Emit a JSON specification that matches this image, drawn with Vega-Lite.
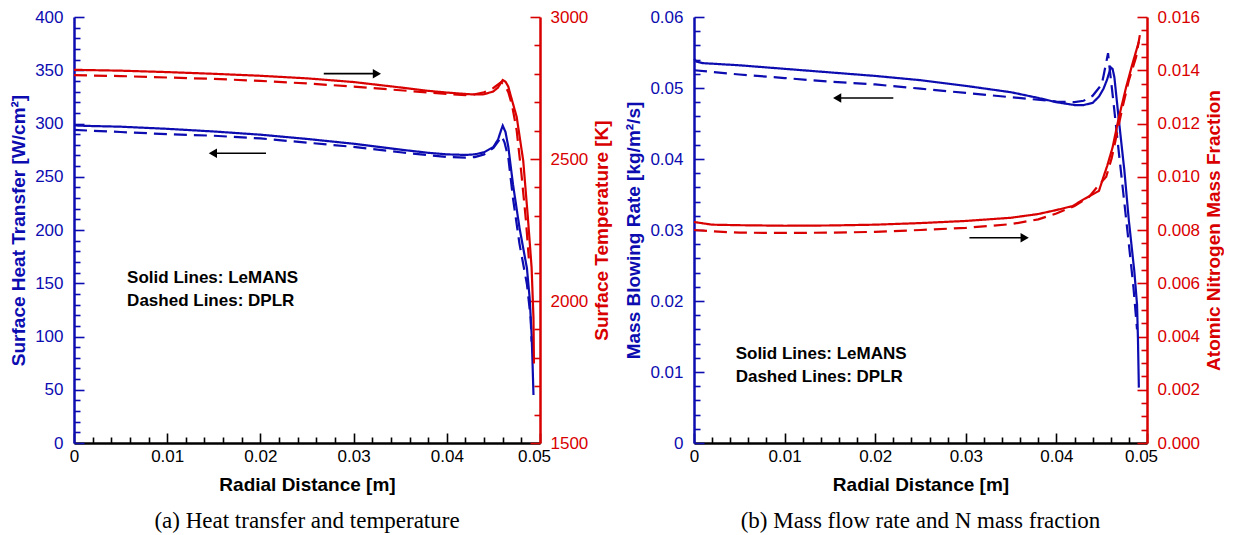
{
  "$schema": "https://vega.github.io/schema/vega-lite/v6.json",
  "background": "white",
  "padding": {"left": 9, "top": 8, "right": 0, "bottom": 0},
  "config": {"view": {"stroke": null}, "font": "Liberation Sans", "concat": {"spacing": 12}},
  "datasets": {
    "a_left": [
      {"x": 0, "v": 298.5, "model": "LeMANS"}, {"x": 0.0005, "v": 298, "model": "LeMANS"}, {"x": 0.002, "v": 297.6, "model": "LeMANS"},
      {"x": 0.005, "v": 297, "model": "LeMANS"}, {"x": 0.01, "v": 295, "model": "LeMANS"}, {"x": 0.015, "v": 292.5, "model": "LeMANS"},
      {"x": 0.02, "v": 289.5, "model": "LeMANS"}, {"x": 0.025, "v": 285.5, "model": "LeMANS"}, {"x": 0.03, "v": 281, "model": "LeMANS"},
      {"x": 0.035, "v": 275.5, "model": "LeMANS"}, {"x": 0.038, "v": 272.5, "model": "LeMANS"}, {"x": 0.04, "v": 271, "model": "LeMANS"},
      {"x": 0.042, "v": 270.5, "model": "LeMANS"}, {"x": 0.043, "v": 271, "model": "LeMANS"}, {"x": 0.044, "v": 273, "model": "LeMANS"},
      {"x": 0.045, "v": 278, "model": "LeMANS"}, {"x": 0.0455, "v": 285, "model": "LeMANS"}, {"x": 0.0458, "v": 293, "model": "LeMANS"},
      {"x": 0.046, "v": 298, "model": "LeMANS"}, {"x": 0.0463, "v": 292, "model": "LeMANS"}, {"x": 0.0466, "v": 278, "model": "LeMANS"},
      {"x": 0.0471, "v": 243, "model": "LeMANS"}, {"x": 0.0478, "v": 202, "model": "LeMANS"}, {"x": 0.0486, "v": 164, "model": "LeMANS"},
      {"x": 0.0489, "v": 135, "model": "LeMANS"}, {"x": 0.0491, "v": 102, "model": "LeMANS"}, {"x": 0.0492, "v": 75, "model": "LeMANS"},
      {"x": 0.04925, "v": 60, "model": "LeMANS"}, {"x": 0.0493, "v": 45, "model": "LeMANS"},
      {"x": 0, "v": 294, "model": "DPLR"}, {"x": 0.005, "v": 292, "model": "DPLR"}, {"x": 0.01, "v": 290, "model": "DPLR"},
      {"x": 0.015, "v": 288.5, "model": "DPLR"}, {"x": 0.02, "v": 286, "model": "DPLR"}, {"x": 0.025, "v": 282, "model": "DPLR"},
      {"x": 0.03, "v": 278, "model": "DPLR"}, {"x": 0.035, "v": 273, "model": "DPLR"}, {"x": 0.04, "v": 268.5, "model": "DPLR"},
      {"x": 0.042, "v": 268, "model": "DPLR"}, {"x": 0.043, "v": 268.5, "model": "DPLR"}, {"x": 0.044, "v": 271, "model": "DPLR"},
      {"x": 0.045, "v": 277, "model": "DPLR"}, {"x": 0.0455, "v": 283, "model": "DPLR"}, {"x": 0.0459, "v": 288, "model": "DPLR"},
      {"x": 0.0462, "v": 282, "model": "DPLR"}, {"x": 0.0466, "v": 268, "model": "DPLR"}, {"x": 0.0471, "v": 230, "model": "DPLR"},
      {"x": 0.0478, "v": 187, "model": "DPLR"}, {"x": 0.0486, "v": 149, "model": "DPLR"}, {"x": 0.049, "v": 117, "model": "DPLR"},
      {"x": 0.0491, "v": 95, "model": "DPLR"}
    ],
    "a_right": [
      {"x": 0, "v": 2814, "model": "LeMANS"}, {"x": 0.005, "v": 2811, "model": "LeMANS"}, {"x": 0.01, "v": 2806, "model": "LeMANS"},
      {"x": 0.015, "v": 2800, "model": "LeMANS"}, {"x": 0.02, "v": 2793, "model": "LeMANS"}, {"x": 0.025, "v": 2784, "model": "LeMANS"},
      {"x": 0.03, "v": 2771, "model": "LeMANS"}, {"x": 0.035, "v": 2752, "model": "LeMANS"}, {"x": 0.038, "v": 2740, "model": "LeMANS"},
      {"x": 0.04, "v": 2734, "model": "LeMANS"}, {"x": 0.042, "v": 2729, "model": "LeMANS"}, {"x": 0.043, "v": 2727, "model": "LeMANS"},
      {"x": 0.044, "v": 2728, "model": "LeMANS"}, {"x": 0.045, "v": 2738, "model": "LeMANS"}, {"x": 0.0455, "v": 2752, "model": "LeMANS"},
      {"x": 0.046, "v": 2778, "model": "LeMANS"}, {"x": 0.0463, "v": 2772, "model": "LeMANS"}, {"x": 0.0466, "v": 2755, "model": "LeMANS"},
      {"x": 0.0468, "v": 2730, "model": "LeMANS"}, {"x": 0.0475, "v": 2648, "model": "LeMANS"}, {"x": 0.0482, "v": 2494, "model": "LeMANS"},
      {"x": 0.0487, "v": 2294, "model": "LeMANS"}, {"x": 0.0491, "v": 2117, "model": "LeMANS"}, {"x": 0.0493, "v": 1940, "model": "LeMANS"},
      {"x": 0.04935, "v": 1780, "model": "LeMANS"},
      {"x": 0, "v": 2795, "model": "DPLR"}, {"x": 0.005, "v": 2792, "model": "DPLR"}, {"x": 0.01, "v": 2787, "model": "DPLR"},
      {"x": 0.015, "v": 2782, "model": "DPLR"}, {"x": 0.02, "v": 2775, "model": "DPLR"}, {"x": 0.025, "v": 2766, "model": "DPLR"},
      {"x": 0.03, "v": 2755, "model": "DPLR"}, {"x": 0.035, "v": 2742, "model": "DPLR"}, {"x": 0.04, "v": 2729, "model": "DPLR"},
      {"x": 0.042, "v": 2725, "model": "DPLR"}, {"x": 0.043, "v": 2728, "model": "DPLR"}, {"x": 0.044, "v": 2735, "model": "DPLR"},
      {"x": 0.045, "v": 2750, "model": "DPLR"}, {"x": 0.0458, "v": 2770, "model": "DPLR"}, {"x": 0.0462, "v": 2762, "model": "DPLR"},
      {"x": 0.0466, "v": 2735, "model": "DPLR"}, {"x": 0.047, "v": 2690, "model": "DPLR"}, {"x": 0.0475, "v": 2600, "model": "DPLR"},
      {"x": 0.048, "v": 2450, "model": "DPLR"}, {"x": 0.0485, "v": 2280, "model": "DPLR"}, {"x": 0.0488, "v": 2150, "model": "DPLR"}
    ],
    "b_left": [
      {"x": 0, "v": 0.0541, "model": "LeMANS"}, {"x": 0.0003, "v": 0.0537, "model": "LeMANS"}, {"x": 0.001, "v": 0.0535, "model": "LeMANS"},
      {"x": 0.005, "v": 0.0532, "model": "LeMANS"}, {"x": 0.01, "v": 0.0527, "model": "LeMANS"}, {"x": 0.015, "v": 0.0522, "model": "LeMANS"},
      {"x": 0.02, "v": 0.0517, "model": "LeMANS"}, {"x": 0.025, "v": 0.0511, "model": "LeMANS"}, {"x": 0.03, "v": 0.0503, "model": "LeMANS"},
      {"x": 0.035, "v": 0.0494, "model": "LeMANS"}, {"x": 0.038, "v": 0.0486, "model": "LeMANS"}, {"x": 0.04, "v": 0.048, "model": "LeMANS"},
      {"x": 0.042, "v": 0.0476, "model": "LeMANS"}, {"x": 0.043, "v": 0.0476, "model": "LeMANS"}, {"x": 0.044, "v": 0.0479, "model": "LeMANS"},
      {"x": 0.0447, "v": 0.0488, "model": "LeMANS"}, {"x": 0.0452, "v": 0.0499, "model": "LeMANS"}, {"x": 0.0456, "v": 0.0512, "model": "LeMANS"},
      {"x": 0.046, "v": 0.0529, "model": "LeMANS"}, {"x": 0.0462, "v": 0.0527, "model": "LeMANS"}, {"x": 0.0464, "v": 0.0515, "model": "LeMANS"},
      {"x": 0.0469, "v": 0.0454, "model": "LeMANS"}, {"x": 0.0475, "v": 0.0384, "model": "LeMANS"}, {"x": 0.048, "v": 0.0313, "model": "LeMANS"},
      {"x": 0.0486, "v": 0.0242, "model": "LeMANS"}, {"x": 0.0489, "v": 0.0195, "model": "LeMANS"}, {"x": 0.049, "v": 0.0148, "model": "LeMANS"},
      {"x": 0.0491, "v": 0.0078, "model": "LeMANS"},
      {"x": 0, "v": 0.0525, "model": "DPLR"}, {"x": 0.005, "v": 0.0519, "model": "DPLR"}, {"x": 0.01, "v": 0.0514, "model": "DPLR"},
      {"x": 0.015, "v": 0.0509, "model": "DPLR"}, {"x": 0.02, "v": 0.0505, "model": "DPLR"}, {"x": 0.025, "v": 0.0499, "model": "DPLR"},
      {"x": 0.03, "v": 0.0493, "model": "DPLR"}, {"x": 0.035, "v": 0.0487, "model": "DPLR"}, {"x": 0.04, "v": 0.0481, "model": "DPLR"},
      {"x": 0.042, "v": 0.048, "model": "DPLR"}, {"x": 0.043, "v": 0.0482, "model": "DPLR"}, {"x": 0.044, "v": 0.0489, "model": "DPLR"},
      {"x": 0.045, "v": 0.0505, "model": "DPLR"}, {"x": 0.0452, "v": 0.0517, "model": "DPLR"}, {"x": 0.0457, "v": 0.0549, "model": "DPLR"},
      {"x": 0.0459, "v": 0.0525, "model": "DPLR"}, {"x": 0.0463, "v": 0.048, "model": "DPLR"}, {"x": 0.0468, "v": 0.042, "model": "DPLR"},
      {"x": 0.0474, "v": 0.035, "model": "DPLR"}, {"x": 0.048, "v": 0.028, "model": "DPLR"}, {"x": 0.0485, "v": 0.022, "model": "DPLR"},
      {"x": 0.0489, "v": 0.016, "model": "DPLR"}
    ],
    "b_right": [
      {"x": 0, "v": 0.0083, "model": "LeMANS"}, {"x": 0.002, "v": 0.0082, "model": "LeMANS"}, {"x": 0.005, "v": 0.00818, "model": "LeMANS"},
      {"x": 0.01, "v": 0.00816, "model": "LeMANS"}, {"x": 0.015, "v": 0.00817, "model": "LeMANS"}, {"x": 0.02, "v": 0.0082, "model": "LeMANS"},
      {"x": 0.025, "v": 0.00826, "model": "LeMANS"}, {"x": 0.03, "v": 0.00834, "model": "LeMANS"}, {"x": 0.035, "v": 0.00846, "model": "LeMANS"},
      {"x": 0.038, "v": 0.0086, "model": "LeMANS"}, {"x": 0.04, "v": 0.00875, "model": "LeMANS"}, {"x": 0.0418, "v": 0.0089, "model": "LeMANS"},
      {"x": 0.043, "v": 0.00915, "model": "LeMANS"}, {"x": 0.0447, "v": 0.00947, "model": "LeMANS"}, {"x": 0.0452, "v": 0.01, "model": "LeMANS"},
      {"x": 0.0456, "v": 0.0104, "model": "LeMANS"}, {"x": 0.0462, "v": 0.0111, "model": "LeMANS"}, {"x": 0.0469, "v": 0.01224, "model": "LeMANS"},
      {"x": 0.0477, "v": 0.01337, "model": "LeMANS"}, {"x": 0.0484, "v": 0.01425, "model": "LeMANS"}, {"x": 0.0491, "v": 0.01507, "model": "LeMANS"},
      {"x": 0, "v": 0.008, "model": "DPLR"}, {"x": 0.002, "v": 0.00795, "model": "DPLR"}, {"x": 0.005, "v": 0.0079, "model": "DPLR"},
      {"x": 0.01, "v": 0.00789, "model": "DPLR"}, {"x": 0.015, "v": 0.0079, "model": "DPLR"}, {"x": 0.02, "v": 0.00793, "model": "DPLR"},
      {"x": 0.025, "v": 0.008, "model": "DPLR"}, {"x": 0.03, "v": 0.00808, "model": "DPLR"}, {"x": 0.035, "v": 0.00822, "model": "DPLR"},
      {"x": 0.038, "v": 0.0084, "model": "DPLR"}, {"x": 0.04, "v": 0.00862, "model": "DPLR"}, {"x": 0.042, "v": 0.0089, "model": "DPLR"},
      {"x": 0.0436, "v": 0.00924, "model": "DPLR"}, {"x": 0.0447, "v": 0.0097, "model": "DPLR"}, {"x": 0.0455, "v": 0.01, "model": "DPLR"},
      {"x": 0.0461, "v": 0.0107, "model": "DPLR"}, {"x": 0.0466, "v": 0.01148, "model": "DPLR"}, {"x": 0.0473, "v": 0.01261, "model": "DPLR"},
      {"x": 0.048, "v": 0.01362, "model": "DPLR"}, {"x": 0.0488, "v": 0.0145, "model": "DPLR"}, {"x": 0.0493, "v": 0.0155, "model": "DPLR"}
    ],
    "a_notes": [
      {"x": 0.0057, "v": 155, "label": "Solid Lines: LeMANS"},
      {"x": 0.0057, "v": 133, "label": "Dashed Lines: DPLR"}
    ],
    "a_arrows": [
      {"tail": 0.0268, "tip": 0.0325, "v": 346.8, "dir": "right"},
      {"tail": 0.0206, "tip": 0.0149, "v": 272, "dir": "left"}
    ],
    "b_notes": [
      {"x": 0.0046, "v": 0.01254, "label": "Solid Lines: LeMANS"},
      {"x": 0.0046, "v": 0.0093, "label": "Dashed Lines: DPLR"}
    ],
    "b_arrows": [
      {"tail": 0.022, "tip": 0.0158, "v": 0.0486, "dir": "left"},
      {"tail": 0.0304, "tip": 0.0365, "v": 0.0289, "dir": "right"}
    ]
  },
  "hconcat": [
    {
      "width": 466,
      "height": 426,
      "title": {"text": "(a) Heat transfer and temperature", "orient": "bottom", "font": "Liberation Serif", "fontSize": 23, "fontWeight": "normal", "color": "black", "offset": 16, "anchor": "middle"},
      "resolve": {"scale": {"y": "independent"}},
      "layer": [
        {
          "layer": [
            {
              "data": {"name": "a_left"},
              "mark": {"type": "line", "color": "#0c0cb0", "strokeWidth": 2.2},
              "encoding": {
                "x": {"field": "x", "type": "quantitative", "scale": {"domain": [0, 0.05], "nice": false, "zero": false},
                  "axis": {
                    "title": "Radial Distance [m]", "tickCount": 200,
                    "values": [0, 0.002, 0.004, 0.006, 0.008, 0.01, 0.012, 0.014, 0.016, 0.018, 0.02, 0.022, 0.024, 0.026, 0.028, 0.03, 0.032, 0.034, 0.036, 0.038, 0.04, 0.042, 0.044, 0.046, 0.048, 0.05],
                    "labelExpr": "abs(datum.value*100 - round(datum.value*100)) < 0.000001 ? (datum.value == 0 ? '0' : format(datum.value, '.2f')) : ''",
                    "tickSize": {"condition": {"test": "abs(datum.value*100 - round(datum.value*100)) < 0.000001", "value": -10}, "value": -6},
                    "labelOffset": {"condition": {"test": "datum.value > 0.0499", "value": -6}, "value": 0},
                    "tickColor": "black", "tickWidth": 1.6, "domainColor": "black", "domainWidth": 2.5,
                    "labelPadding": 15, "labelFontSize": 17, "labelColor": "black", "labelFont": "Liberation Sans", "labelOverlap": false, "labelFlush": false,
                    "titleFontSize": 19, "titleFontWeight": "bold", "titleColor": "black", "titleFont": "Liberation Sans", "titlePadding": 7, "grid": false
                  }},
                "y": {"field": "v", "type": "quantitative", "scale": {"domain": [0, 400], "nice": false},
                  "axis": {
                    "title": "Surface Heat Transfer [W/cm²]", "orient": "left", "tickCount": 200,
                    "values": [0, 10, 20, 30, 40, 50, 60, 70, 80, 90, 100, 110, 120, 130, 140, 150, 160, 170, 180, 190, 200, 210, 220, 230, 240, 250, 260, 270, 280, 290, 300, 310, 320, 330, 340, 350, 360, 370, 380, 390, 400],
                    "format": "d",
                    "labelExpr": "datum.value % 50 == 0 ? datum.label : ''",
                    "tickSize": {"condition": {"test": "datum.value % 50 == 0", "value": -10}, "value": -6},
                    "tickColor": "#0c0cb0", "tickWidth": 1.6, "domainColor": "#0c0cb0", "domainWidth": 2.5,
                    "labelPadding": 21, "labelFontSize": 17, "labelColor": "#0c0cb0", "labelFont": "Liberation Sans", "labelOverlap": false, "labelFlush": false,
                    "titleFontSize": 19, "titleFontWeight": "bold", "titleColor": "#0c0cb0", "titleFont": "Liberation Sans", "titlePadding": 6, "grid": false
                  }},
                "strokeDash": {"field": "model", "type": "nominal", "scale": {"domain": ["LeMANS", "DPLR"], "range": [[1, 0], [13, 7]]}, "legend": null}
              }
            },
            {
              "data": {"name": "a_notes"},
              "mark": {"type": "text", "align": "left", "baseline": "middle", "font": "Liberation Sans", "fontSize": 17, "fontWeight": "bold", "color": "black"},
              "encoding": {
                "x": {"field": "x", "type": "quantitative", "scale": {"domain": [0, 0.05], "nice": false, "zero": false}},
                "y": {"field": "v", "type": "quantitative", "scale": {"domain": [0, 400], "nice": false}},
                "text": {"field": "label"}
              }
            },
            {
              "data": {"name": "a_arrows"},
              "mark": {"type": "rule", "color": "black", "strokeWidth": 1.6},
              "encoding": {
                "x": {"field": "tail", "type": "quantitative", "scale": {"domain": [0, 0.05], "nice": false, "zero": false}},
                "x2": {"field": "tip"},
                "y": {"field": "v", "type": "quantitative", "scale": {"domain": [0, 400], "nice": false}}
              }
            },
            {
              "data": {"name": "a_arrows"},
              "mark": {"type": "point", "filled": true, "color": "black", "opacity": 1, "size": 90},
              "encoding": {
                "x": {"field": "tip", "type": "quantitative", "scale": {"domain": [0, 0.05], "nice": false, "zero": false}},
                "y": {"field": "v", "type": "quantitative", "scale": {"domain": [0, 400], "nice": false}},
                "shape": {"field": "dir", "type": "nominal", "scale": {"domain": ["right", "left"], "range": ["triangle-right", "triangle-left"]}, "legend": null}
              }
            }
          ]
        },
        {
          "data": {"name": "a_right"},
          "mark": {"type": "line", "color": "#d90000", "strokeWidth": 2.2},
          "encoding": {
            "x": {"field": "x", "type": "quantitative", "scale": {"domain": [0, 0.05], "nice": false, "zero": false}},
            "y": {"field": "v", "type": "quantitative", "scale": {"domain": [1500, 3000], "nice": false, "zero": false},
              "axis": {
                "title": "Surface Temperature [K]", "orient": "right", "titleAngle": -90, "titleBaseline": "top", "tickCount": 200,
                "values": [1500, 1600, 1700, 1800, 1900, 2000, 2100, 2200, 2300, 2400, 2500, 2600, 2700, 2800, 2900, 3000],
                "format": "d",
                "labelExpr": "datum.value % 500 == 0 ? datum.label : ''",
                "tickSize": {"condition": {"test": "datum.value % 500 == 0", "value": -10}, "value": -6},
                "tickColor": "#d90000", "tickWidth": 1.6, "domainColor": "#d90000", "domainWidth": 2.5,
                "labelPadding": 20, "labelFontSize": 17, "labelColor": "#d90000", "labelFont": "Liberation Sans", "labelOverlap": false, "labelFlush": false,
                "titleFontSize": 19, "titleFontWeight": "bold", "titleColor": "#d90000", "titleFont": "Liberation Sans", "titlePadding": 5, "grid": false
              }},
            "strokeDash": {"field": "model", "type": "nominal", "scale": {"domain": ["LeMANS", "DPLR"], "range": [[1, 0], [13, 7]]}, "legend": null}
          }
        }
      ]
    },
    {
      "width": 453,
      "height": 426,
      "title": {"text": "(b) Mass flow rate and N mass fraction", "orient": "bottom", "font": "Liberation Serif", "fontSize": 23, "fontWeight": "normal", "color": "black", "offset": 16, "anchor": "middle"},
      "resolve": {"scale": {"y": "independent"}},
      "layer": [
        {
          "layer": [
            {
              "data": {"name": "b_left"},
              "mark": {"type": "line", "color": "#0c0cb0", "strokeWidth": 2.2},
              "encoding": {
                "x": {"field": "x", "type": "quantitative", "scale": {"domain": [0, 0.05], "nice": false, "zero": false},
                  "axis": {
                    "title": "Radial Distance [m]", "tickCount": 200,
                    "values": [0, 0.002, 0.004, 0.006, 0.008, 0.01, 0.012, 0.014, 0.016, 0.018, 0.02, 0.022, 0.024, 0.026, 0.028, 0.03, 0.032, 0.034, 0.036, 0.038, 0.04, 0.042, 0.044, 0.046, 0.048, 0.05],
                    "labelExpr": "abs(datum.value*100 - round(datum.value*100)) < 0.000001 ? (datum.value == 0 ? '0' : format(datum.value, '.2f')) : ''",
                    "tickSize": {"condition": {"test": "abs(datum.value*100 - round(datum.value*100)) < 0.000001", "value": -10}, "value": -6},
                    "labelOffset": {"condition": {"test": "datum.value > 0.0499", "value": -6}, "value": 0},
                    "tickColor": "black", "tickWidth": 1.6, "domainColor": "black", "domainWidth": 2.5,
                    "labelPadding": 15, "labelFontSize": 17, "labelColor": "black", "labelFont": "Liberation Sans", "labelOverlap": false, "labelFlush": false,
                    "titleFontSize": 19, "titleFontWeight": "bold", "titleColor": "black", "titleFont": "Liberation Sans", "titlePadding": 7, "grid": false
                  }},
                "y": {"field": "v", "type": "quantitative", "scale": {"domain": [0, 0.06], "nice": false},
                  "axis": {
                    "title": "Mass Blowing Rate [kg/m²/s]", "orient": "left", "tickCount": 200,
                    "values": [0, 0.002, 0.004, 0.006, 0.008, 0.01, 0.012, 0.014, 0.016, 0.018, 0.02, 0.022, 0.024, 0.026, 0.028, 0.03, 0.032, 0.034, 0.036, 0.038, 0.04, 0.042, 0.044, 0.046, 0.048, 0.05, 0.052, 0.054, 0.056, 0.058, 0.06],
                    "labelExpr": "abs(datum.value*100 - round(datum.value*100)) < 0.000001 ? (datum.value == 0 ? '0' : format(datum.value, '.2f')) : ''",
                    "tickSize": {"condition": {"test": "abs(datum.value*100 - round(datum.value*100)) < 0.000001", "value": -10}, "value": -6},
                    "tickColor": "#0c0cb0", "tickWidth": 1.6, "domainColor": "#0c0cb0", "domainWidth": 2.5,
                    "labelPadding": 21, "labelFontSize": 17, "labelColor": "#0c0cb0", "labelFont": "Liberation Sans", "labelOverlap": false, "labelFlush": false,
                    "titleFontSize": 19, "titleFontWeight": "bold", "titleColor": "#0c0cb0", "titleFont": "Liberation Sans", "titlePadding": 6, "grid": false
                  }},
                "strokeDash": {"field": "model", "type": "nominal", "scale": {"domain": ["LeMANS", "DPLR"], "range": [[1, 0], [13, 7]]}, "legend": null}
              }
            },
            {
              "data": {"name": "b_notes"},
              "mark": {"type": "text", "align": "left", "baseline": "middle", "font": "Liberation Sans", "fontSize": 17, "fontWeight": "bold", "color": "black"},
              "encoding": {
                "x": {"field": "x", "type": "quantitative", "scale": {"domain": [0, 0.05], "nice": false, "zero": false}},
                "y": {"field": "v", "type": "quantitative", "scale": {"domain": [0, 0.06], "nice": false}},
                "text": {"field": "label"}
              }
            },
            {
              "data": {"name": "b_arrows"},
              "mark": {"type": "rule", "color": "black", "strokeWidth": 1.6},
              "encoding": {
                "x": {"field": "tail", "type": "quantitative", "scale": {"domain": [0, 0.05], "nice": false, "zero": false}},
                "x2": {"field": "tip"},
                "y": {"field": "v", "type": "quantitative", "scale": {"domain": [0, 0.06], "nice": false}}
              }
            },
            {
              "data": {"name": "b_arrows"},
              "mark": {"type": "point", "filled": true, "color": "black", "opacity": 1, "size": 90},
              "encoding": {
                "x": {"field": "tip", "type": "quantitative", "scale": {"domain": [0, 0.05], "nice": false, "zero": false}},
                "y": {"field": "v", "type": "quantitative", "scale": {"domain": [0, 0.06], "nice": false}},
                "shape": {"field": "dir", "type": "nominal", "scale": {"domain": ["right", "left"], "range": ["triangle-right", "triangle-left"]}, "legend": null}
              }
            }
          ]
        },
        {
          "data": {"name": "b_right"},
          "mark": {"type": "line", "color": "#d90000", "strokeWidth": 2.2},
          "encoding": {
            "x": {"field": "x", "type": "quantitative", "scale": {"domain": [0, 0.05], "nice": false, "zero": false}},
            "y": {"field": "v", "type": "quantitative", "scale": {"domain": [0, 0.016], "nice": false},
              "axis": {
                "title": "Atomic Nitrogen Mass Fraction", "orient": "right", "titleAngle": -90, "titleBaseline": "top", "tickCount": 200,
                "values": [0, 0.0005, 0.001, 0.0015, 0.002, 0.0025, 0.003, 0.0035, 0.004, 0.0045, 0.005, 0.0055, 0.006, 0.0065, 0.007, 0.0075, 0.008, 0.0085, 0.009, 0.0095, 0.01, 0.0105, 0.011, 0.0115, 0.012, 0.0125, 0.013, 0.0135, 0.014, 0.0145, 0.015, 0.0155, 0.016],
                "labelExpr": "abs(datum.value*500 - round(datum.value*500)) < 0.000001 ? format(datum.value, '.3f') : ''",
                "tickSize": {"condition": {"test": "abs(datum.value*500 - round(datum.value*500)) < 0.000001", "value": -10}, "value": -6},
                "tickColor": "#d90000", "tickWidth": 1.6, "domainColor": "#d90000", "domainWidth": 2.5,
                "labelPadding": 20, "labelFontSize": 17, "labelColor": "#d90000", "labelFont": "Liberation Sans", "labelOverlap": false, "labelFlush": false,
                "titleFontSize": 19, "titleFontWeight": "bold", "titleColor": "#d90000", "titleFont": "Liberation Sans", "titlePadding": 5, "grid": false
              }},
            "strokeDash": {"field": "model", "type": "nominal", "scale": {"domain": ["LeMANS", "DPLR"], "range": [[1, 0], [13, 7]]}, "legend": null}
          }
        }
      ]
    }
  ]
}
